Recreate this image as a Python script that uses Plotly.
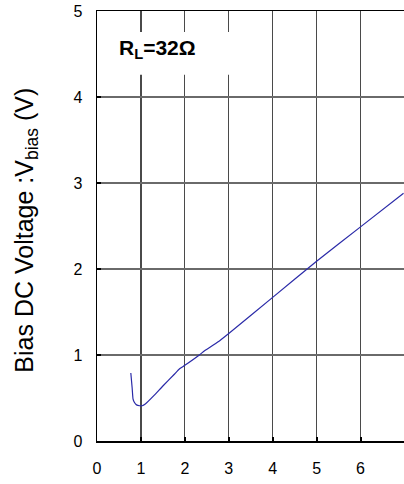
import plotly.graph_objects as go

# Data
load_current = [0.77, 0.80, 0.82, 0.85, 0.90, 0.97, 1.03, 1.10, 1.30, 1.50, 1.75, 1.88, 2.00, 2.33, 2.45, 2.75, 3.00, 4.00, 5.00, 6.00, 6.98]
bias_voltage = [0.79, 0.62, 0.49, 0.45, 0.42, 0.41, 0.41, 0.43, 0.53, 0.64, 0.77, 0.84, 0.88, 1.00, 1.05, 1.15, 1.25, 1.67, 2.09, 2.49, 2.88]

x_ticks = [0, 1, 2, 3, 4, 5, 6, 7]
y_ticks = [0, 1, 2, 3, 4, 5]
label_text = "<b>R<sub>L</sub>=32Ω</b>"
y_title = "Bias DC Voltage :V<sub>bias</sub> (V)"

FONT = "Liberation Sans, Arial, sans-serif"

fig = go.Figure()
fig.add_trace(go.Scatter(
    x=load_current, y=bias_voltage, mode="lines",
    line=dict(color="#2a2aa8", width=1.2, shape="spline", smoothing=0.4),
    showlegend=False, hoverinfo="skip", cliponaxis=True,
))

fig.update_layout(
    width=404, height=484,
    margin=dict(l=97, r=0, t=11, b=43, autoexpand=False),
    paper_bgcolor="white", plot_bgcolor="white",
    font=dict(family=FONT, size=16, color="black"),
    showlegend=False,
)

fig.update_xaxes(
    range=[0, 6.99], tickvals=x_ticks, ticktext=[str(v) for v in x_ticks],
    showgrid=True, gridcolor="#4a4a4a", gridwidth=1.3,
    showline=True, linecolor="black", linewidth=1.5, mirror=True,
    ticks="inside", ticklen=4, tickwidth=2, tickcolor="black",
    ticklabelstandoff=12, zeroline=False, automargin=False,
    tickfont=dict(size=16, family=FONT),
)
fig.update_yaxes(
    range=[0, 5], tickvals=y_ticks, ticktext=[str(v) for v in y_ticks],
    showgrid=True, gridcolor="#6a6a6a", gridwidth=1.6,
    showline=True, linecolor="black", linewidth=1.5, mirror=False,
    ticks="inside", ticklen=4, tickwidth=2, tickcolor="black",
    ticklabelstandoff=10, zeroline=False, automargin=False,
    tickfont=dict(size=16, family=FONT),
)

# white box behind the load label (breaks the gridlines)
fig.add_shape(type="rect", xref="x", yref="y", x0=0.18, x1=3.46, y0=4.26, y1=4.755,
              fillcolor="white", line=dict(width=0), layer="above")
fig.add_annotation(x=0.46, y=4.56, xref="x", yref="y", xanchor="left", yanchor="middle",
                   text=label_text, showarrow=False,
                   font=dict(family=FONT, size=21, color="black"))

# y-axis title
fig.add_annotation(x=-0.23, y=0.49, xref="paper", yref="paper", xanchor="center", yanchor="middle",
                   text=y_title, textangle=-90, showarrow=False,
                   font=dict(family=FONT, size=25, color="black"))

fig.write_html(
    "out.html",
    config={"displayModeBar": False, "staticPlot": True},
    post_script="document.body.style.margin='0';document.body.style.overflow='hidden';",
)
